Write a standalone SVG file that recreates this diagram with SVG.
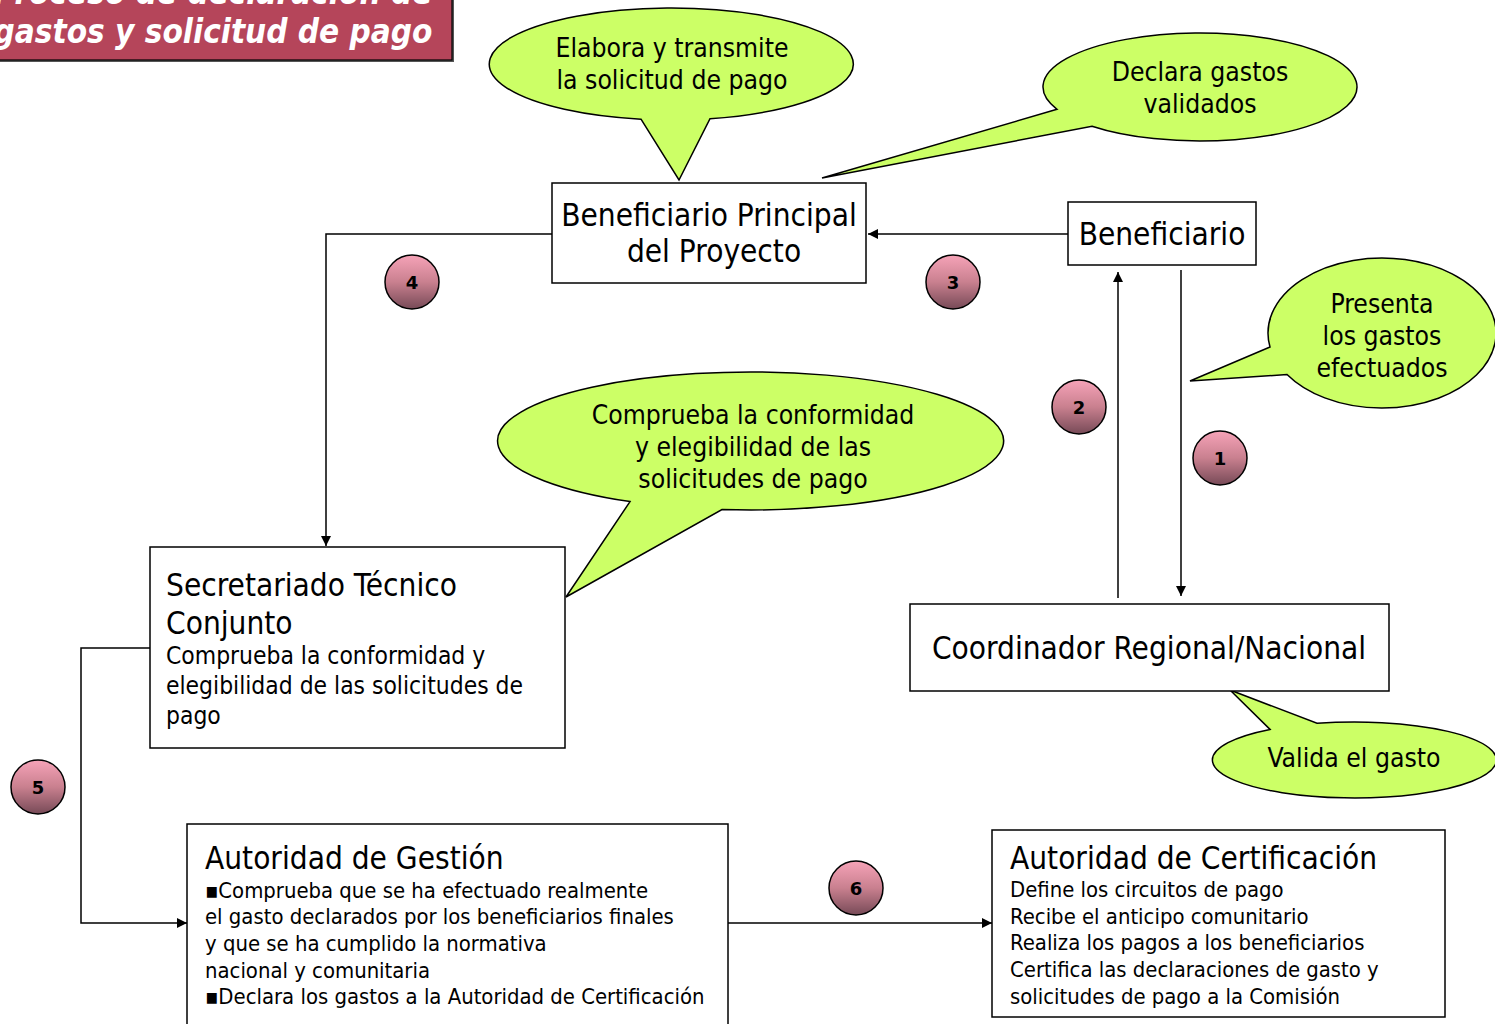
<svg xmlns="http://www.w3.org/2000/svg" width="1495" height="1024" viewBox="0 0 1495 1024">
<style>
.box{fill:#fff;stroke:#000;stroke-width:1.5}
.call{fill:#ccff66;stroke:#000;stroke-width:1.5;stroke-linejoin:miter}
.t{font-family:"DejaVu Sans Condensed","DejaVu Sans",sans-serif;fill:#000}
.c{text-anchor:middle}
.h{font-size:31.3px}
.b{font-size:26.3px}
.s{font-size:21.9px}
.m{font-size:24.4px}
.num{fill:url(#pg);stroke:#000;stroke-width:1.5}
.nt{font-family:"DejaVu Sans",sans-serif;font-weight:bold;font-size:18px;text-anchor:middle;fill:#000}
.con{fill:none;stroke:#000;stroke-width:1.5}
.tt{font-family:"DejaVu Sans Condensed","DejaVu Sans",sans-serif;font-size:33px;font-weight:bold;font-style:italic;fill:#fff;text-anchor:middle}
</style>
<defs>
<linearGradient id="pg" x1="0" y1="0" x2="0" y2="1">
<stop offset="0" stop-color="#f6a3b8"/>
<stop offset="0.5" stop-color="#c9808f"/>
<stop offset="1" stop-color="#774a57"/>
</linearGradient>
<marker id="ar" viewBox="0 0 10 10" refX="10" refY="5" markerWidth="10" markerHeight="10" markerUnits="userSpaceOnUse" orient="auto">
<path d="M0,0 L10,5 L0,10 Z" fill="#000"/>
</marker>
</defs>
<rect width="1495" height="1024" fill="#fff"/>

<g id="title">
<rect x="-4" y="-47" width="458" height="109" fill="#555"/>
<rect x="-6" y="-50" width="458" height="110" fill="#b5455a" stroke="#000" stroke-width="1.2"/>
<text class="tt" x="213" y="4">Proceso de declaración de</text>
<text class="tt" x="213" y="43">gastos y solicitud de pago</text>
</g>

<g id="connectors">
<path class="con" d="M1068,234 L868,234" marker-end="url(#ar)"/>
<path class="con" d="M552,234 L326,234 L326,546" marker-end="url(#ar)"/>
<path class="con" d="M1118,598 L1118,272" marker-end="url(#ar)"/>
<path class="con" d="M1181,270 L1181,596" marker-end="url(#ar)"/>
<path class="con" d="M150,648 L81,648 L81,923 L187,923" marker-end="url(#ar)"/>
<path class="con" d="M728,923 L992,923" marker-end="url(#ar)"/>
</g>

<g id="callout-elabora">
<path class="call" d="M641,119.2 L679,180 L710,118.7 A182,56 0 1 0 641,119.2 Z"/>
<text class="t c b" x="672" y="57">Elabora y transmite</text>
<text class="t c b" x="672" y="89">la solicitud de pago</text>
</g>

<g id="callout-declara">
<path class="call" d="M1057,109.3 L822,178 L1092,126.2 A157,54 0 1 0 1057,109.3 Z"/>
<text class="t c b" x="1200" y="81">Declara gastos</text>
<text class="t c b" x="1200" y="113">validados</text>
</g>

<g id="callout-presenta">
<path class="call" d="M1270,347 L1190,381 L1287,374.5 A114,75 0 1 0 1270,347 Z"/>
<text class="t c b" x="1382" y="313">Presenta</text>
<text class="t c b" x="1382" y="345">los gastos</text>
<text class="t c b" x="1382" y="377">efectuados</text>
</g>

<g id="callout-comprueba">
<path class="call" d="M630,501.6 L566,597 L722,509.5 A253,69 0 1 0 630,501.6 Z"/>
<text class="t c b" x="753" y="424">Comprueba la conformidad</text>
<text class="t c b" x="753" y="456">y elegibilidad de las</text>
<text class="t c b" x="753" y="488">solicitudes de pago</text>
</g>

<g id="callout-valida">
<path class="call" d="M1270,729.4 L1230,690 L1317,723.3 A142,38 0 1 1 1270,729.4 Z"/>
<text class="t c b" x="1354" y="767">Valida el gasto</text>
</g>

<g id="beneficiario-principal">
<rect class="box" x="552" y="183" width="314" height="100"/>
<text class="t c h" x="709" y="226">Beneficiario Principal</text>
<text class="t c h" x="714" y="262">del Proyecto</text>
</g>

<g id="beneficiario">
<rect class="box" x="1068" y="202" width="188" height="63"/>
<text class="t c h" x="1162" y="245">Beneficiario</text>
</g>

<g id="secretariado">
<rect class="box" x="150" y="547" width="415" height="201"/>
<text class="t h" x="166" y="596">Secretariado Técnico</text>
<text class="t h" x="166" y="634">Conjunto</text>
<text class="t m" x="166" y="664">Comprueba la conformidad y</text>
<text class="t m" x="166" y="694">elegibilidad de las solicitudes de</text>
<text class="t m" x="166" y="724">pago</text>
</g>

<g id="coordinador">
<rect class="box" x="910" y="604" width="479" height="87"/>
<text class="t c h" x="1149" y="659">Coordinador Regional/Nacional</text>
</g>

<g id="autoridad-gestion">
<rect class="box" x="187" y="824" width="541" height="210"/>
<text class="t h" x="205" y="869">Autoridad de Gestión</text>
<text class="t s" x="205" y="898">▪Comprueba que se ha efectuado realmente</text>
<text class="t s" x="205" y="924">el gasto declarados por los beneficiarios finales</text>
<text class="t s" x="205" y="951">y que se ha cumplido la normativa</text>
<text class="t s" x="205" y="978">nacional y comunitaria</text>
<text class="t s" x="205" y="1004">▪Declara los gastos a la Autoridad de Certificación</text>
</g>

<g id="autoridad-certificacion">
<rect class="box" x="992" y="830" width="453" height="187"/>
<text class="t h" x="1010" y="869">Autoridad de Certificación</text>
<text class="t s" x="1010" y="897">Define los circuitos de pago</text>
<text class="t s" x="1010" y="924">Recibe el anticipo comunitario</text>
<text class="t s" x="1010" y="950">Realiza los pagos a los beneficiarios</text>
<text class="t s" x="1010" y="977">Certifica las declaraciones de gasto y</text>
<text class="t s" x="1010" y="1004">solicitudes de pago a la Comisión</text>
</g>

<g id="n1"><circle class="num" cx="1220" cy="458" r="27"/><text class="nt" x="1220" y="465">1</text></g>
<g id="n2"><circle class="num" cx="1079" cy="407" r="27"/><text class="nt" x="1079" y="414">2</text></g>
<g id="n3"><circle class="num" cx="953" cy="282" r="27"/><text class="nt" x="953" y="289">3</text></g>
<g id="n4"><circle class="num" cx="412" cy="282" r="27"/><text class="nt" x="412" y="289">4</text></g>
<g id="n5"><circle class="num" cx="38" cy="787" r="27"/><text class="nt" x="38" y="794">5</text></g>
<g id="n6"><circle class="num" cx="856" cy="888" r="27"/><text class="nt" x="856" y="895">6</text></g>
</svg>
